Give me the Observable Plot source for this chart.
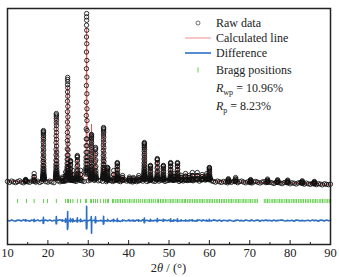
<!DOCTYPE html>
<html>
<head>
<meta charset="utf-8">
<script src="https://cdn.jsdelivr.net/npm/d3@7"></script>
<script src="https://cdn.jsdelivr.net/npm/@observablehq/plot@0.6"></script>
<style>
  body { margin: 0; background: white; }
  #wrap { position: relative; width: 339px; height: 277px; font-family: "Liberation Serif", "Times New Roman", serif; color: #222; }
  .row { position: absolute; left: 183px; height: 16px; display: flex; align-items: center; font-size: 12px; white-space: nowrap; }
  .row svg { width: 30px; height: 16px; margin-right: 3px; }
  .row.nosym { left: 216px; }
  sub { font-size: 8px; vertical-align: -3px; line-height: 0; }
  #xlabel { position: absolute; left: 7px; width: 323px; top: 260px; line-height: 16px; text-align: center; font-size: 12.5px; }
</style>
</head>
<body>
<div id="wrap">
  <div id="chart"></div>
  <div class="row" style="top:15px"><svg><circle cx="15" cy="8" r="2" fill="none" stroke="#333" stroke-width="0.7"/></svg><span>Raw data</span></div>
  <div class="row" style="top:30px"><svg><line x1="2" x2="28" y1="8" y2="8" stroke="#ef8f8f" stroke-width="1"/></svg><span>Calculated line</span></div>
  <div class="row" style="top:45px"><svg><line x1="2" x2="28" y1="8" y2="8" stroke="#2e6fc4" stroke-width="1.6"/></svg><span>Difference</span></div>
  <div class="row" style="top:62px"><svg><line x1="15" x2="15" y1="5.5" y2="10.5" stroke="#5fcf4a" stroke-width="1"/></svg><span>Bragg positions</span></div>
  <div class="row nosym" style="top:80px"><span><i>R</i><sub>wp</sub> = 10.96%</span></div>
  <div class="row nosym" style="top:98px"><span><i>R</i><sub>p</sub> = 8.23%</span></div>
  <div id="xlabel">2<i>θ</i> / (°)</div>
</div>
<script>
// ---- data (intensities in arbitrary units) ----
const scanStart = 10, scanStep = 0.5;
const bgObs = [
  104, 98, 106, 101, 97, 103, 108, 100, 96, 104,
  102, 99, 107, 103, 100, 105, 98, 104, 110, 103,
  100, 106, 101, 97, 104, 108, 102, 99, 105, 110,
  106, 103, 112, 108, 104, 109, 113, 107, 104, 110,
  108, 112, 106, 110, 104, 108, 111, 105, 109, 103,
  106, 110, 104, 108, 112, 107, 103, 109, 114, 106,
  110, 104, 101, 107, 103, 108, 112, 106, 110, 104,
  108, 113, 107, 104, 110, 106, 112, 108, 104, 109,
  112, 106, 110, 115, 108, 104, 111, 107, 113, 109,
  106, 112, 108, 115, 110, 106, 113, 118, 112, 120,
  114, 108, 104, 100, 106, 102, 98, 104, 100, 96,
  102, 99, 105, 101, 97, 103, 106, 100, 96, 102,
  98, 95, 101, 104, 99, 95, 100, 103, 97, 94,
  99, 96, 92, 98, 101, 95, 91, 97, 100, 94,
  90, 96, 93, 89, 95, 98, 92, 88, 94, 90,
  87, 92, 89, 85, 91, 88, 84, 90, 87, 85,
  88
];
const diffBg = [
  2, -3, 4, -1, -4, 3, 1, -2, 5, -3,
  0, -4, 3, 1, -2, 4, -3, 2, -1, 3,
  -2, 4, -3, 1, -4, 2, 5, -2, 0, 3,
  -3, 2, 4, -4, 1, -2, 3, -5, 2, 4,
  -1, 3, -4, 2, 5, -3, 1, -2, 4, -3,
  2, -4, 3, -1, 4, -2, -5, 3, 1, -3,
  4, -2, 1, -4, 3, 0, -3, 5, -1, 2,
  -3, 4, -2, 1, -4, 3, 2, -3, 4, -1,
  3, -2, -4, 2, 5, -3, 1, -1, 4, -2,
  -3, 3, 1, -4, 2, 4, -2, 3, -1, -3,
  2, -3, 4, 1, -2, 3, -4, 2, 0, -3,
  3, -1, -4, 2, 4, -2, 1, -3, 3, 0,
  -2, 4, -3, 1, 3, -4, 2, -1, 4, -2,
  1, -3, 3, -2, -4, 2, 4, -1, -3, 3,
  -1, 2, -4, 3, 1, -2, 4, -3, 0, 2,
  -3, 4, -1, 2, -4, 3, 1, -2, 3, -1,
  2
];
const calcStart = 10, calcStep = 2;
const bgCalc = [103, 103, 103, 104, 104, 104, 105, 106, 107, 108, 108, 108, 108, 108, 108, 107, 106, 107, 108, 108,
  109, 110, 110, 111, 113, 110, 104, 102, 101, 100, 99, 98, 98, 97, 96, 94, 93, 91, 89, 88, 87];

// Bragg peaks: position, sampling step, observed intensities, difference (obs - calc)
const peakPos  = [14.5, 16.6, 18.9, 22.1, 23.6, 24.4, 24.9, 25.6, 26.2, 27.3, 28.1, 29.6, 30.8, 31.8, 33.8, 34.8, 36.3, 37.2,
  38.5, 40.2, 41.2, 42.5, 43.9, 45.4, 47.1, 48.6, 50.4, 51.2, 52.1, 53.0, 54.1, 55.0, 55.8, 57.0, 58.2, 59.3, 60.0,
  64.7, 66.5, 70.2, 74.4, 76.9, 79.4, 83.0, 86.0];
const peakStep = [0.05, 0.05, 0.01, 0.01, 0.05, 0.05, 0.01, 0.02, 0.05, 0.02, 0.05, 0.01, 0.01, 0.02, 0.01, 0.02, 0.05, 0.02,
  0.05, 0.05, 0.05, 0.05, 0.01, 0.02, 0.02, 0.02, 0.02, 0.05, 0.02, 0.05, 0.05, 0.05, 0.05, 0.05, 0.05, 0.05, 0.02,
  0.05, 0.05, 0.05, 0.05, 0.05, 0.05, 0.05, 0.05];
const peakObs = [
  [104,107,112,116,112,107,104],
  [105,113,132,151,132,113,105],
  [116,119,122,125,128,134,140,146,155,167,180,198,222,246,276,306,337,364,385,400,406,394,376,352,321,291,261,234,213,195,180,167,155,146,140,134,128,125,122,119,116],
  [121,125,129,133,137,145,153,161,173,189,206,230,262,294,334,374,415,451,479,499,507,491,467,435,394,354,314,278,250,226,206,189,173,161,153,145,137,133,129,125,121],
  [106,111,121,130,121,111,106],
  [108,116,138,160,138,116,108],
  [131,137,143,149,155,168,180,192,211,235,260,297,346,395,457,518,580,635,678,709,721,696,660,610,549,487,426,370,327,291,260,235,211,192,180,168,155,149,143,137,131],
  [111,113,116,121,127,137,154,176,200,219,228,223,206,182,158,141,132,123,118,115,112],
  [110,119,144,169,144,119,110],
  [113,116,119,125,133,145,166,193,223,247,258,252,231,201,172,152,139,128,122,118,115],
  [110,120,145,170,145,120,110],
  [148,158,168,177,187,207,227,247,277,316,356,416,495,574,673,773,872,961,1031,1080,1100,1060,1001,921,822,723,624,535,465,406,356,316,277,247,227,207,187,177,168,158,148],
  [119,122,125,127,130,136,141,147,155,166,177,193,215,237,265,292,320,345,364,378,383,372,356,334,306,279,251,226,207,191,177,166,155,147,141,136,130,127,125,122,119],
  [116,120,124,132,142,158,185,221,260,292,306,298,270,231,193,167,150,136,128,122,118],
  [121,124,127,130,133,140,146,152,162,174,187,206,231,257,288,320,351,380,402,418,424,411,392,367,336,304,272,244,222,203,187,174,162,152,146,140,133,130,127,124,121],
  [111,113,114,117,121,128,139,153,169,181,187,184,173,157,142,132,125,119,116,114,112],
  [111,120,145,169,145,120,111],
  [112,114,117,121,126,135,150,170,191,208,216,212,197,175,154,140,131,123,119,116,113],
  [110,114,127,139,127,114,110],
  [109,112,121,130,121,112,109],
  [108,111,119,127,119,111,108],
  [108,113,126,139,126,113,108],
  [116,118,121,123,125,130,134,139,146,155,164,178,196,214,237,260,283,303,319,330,335,326,312,294,271,248,226,205,189,175,164,155,146,139,134,130,125,123,121,118,116],
  [112,113,115,119,123,131,143,160,178,193,199,195,183,164,147,135,127,121,117,114,113],
  [113,116,119,124,130,141,159,183,210,231,240,235,216,190,165,148,136,126,121,117,115],
  [113,114,116,120,124,132,144,160,178,193,199,195,183,164,148,136,128,122,118,115,114],
  [113,115,118,122,127,136,151,170,191,209,216,212,197,175,155,141,132,124,120,116,114],
  [111,117,134,150,134,117,111],
  [114,116,118,123,128,137,151,170,192,209,216,212,197,176,156,142,132,125,121,117,115],
  [111,116,128,140,128,116,111],
  [112,118,135,151,135,118,112],
  [112,116,128,140,128,116,112],
  [113,120,139,157,139,120,113],
  [114,121,139,157,139,121,114],
  [115,119,133,145,133,119,115],
  [116,121,136,150,136,121,116],
  [115,117,118,121,125,131,141,155,170,182,187,184,174,159,144,134,128,123,120,117,116],
  [103,107,114,120,114,107,103],
  [103,108,118,127,118,108,103],
  [100,104,110,115,110,104,100],
  [99,103,111,118,111,103,99],
  [98,101,108,114,108,101,98],
  [96,100,106,112,106,100,96],
  [93,96,102,108,102,96,93],
  [90,93,99,104,99,93,90]
];
const peakDiff = [
  [0,-1,-3,4,5,-2,0],
  [0,-2,-6,8,6,-3,0],
  [0,0,0,0,-1,-1,-1,-2,-2,-3,-4,-6,-8,-11,-14,-17,-12,-3,7,15,19,12,3,-7,-13,-15,-12,-9,-6,-4,-3,-2,-1,-1,0,0,0,0,0,0,0],
  [0,0,0,0,-1,-1,-1,-2,-3,-4,-5,-7,-10,-14,-18,-20,-14,-4,8,18,24,16,4,-8,-15,-18,-15,-11,-8,-5,-3,-2,-1,-1,0,0,0,0,0,0,0],
  [0,-1,-4,5,3,-2,0],
  [0,-4,-10,12,8,-3,0],
  [0,0,0,-1,-1,-2,-3,-4,-6,-8,-12,-18,-26,-35,-45,-53,-40,-10,20,42,53,35,8,-20,-38,-45,-38,-28,-19,-12,-8,-5,-3,-2,-1,-1,0,0,0,0,0],
  [0,0,-1,-1,-2,-4,-6,-5,2,8,12,6,-2,-6,-5,-3,-2,-1,0,0,0],
  [0,-3,-8,10,6,-3,0],
  [0,0,-1,-2,-3,-5,-8,-7,2,10,16,8,-3,-8,-7,-4,-2,-1,-1,0,0],
  [0,-2,-7,9,7,-3,0],
  [0,0,0,-1,-1,-2,-3,-4,-6,-9,-13,-19,-27,-36,-45,-50,-40,-15,25,65,85,60,22,-18,-42,-48,-40,-30,-21,-14,-9,-6,-4,-3,-2,-1,-1,0,0,0,0],
  [0,0,0,1,1,2,3,4,5,7,9,12,15,18,22,24,20,10,-8,-30,-55,-72,-75,-60,-42,-28,-18,-12,-8,-5,-3,-2,-1,-1,0,0,0,0,0,0,0],
  [0,0,-1,-2,-4,-8,-12,-10,2,14,22,12,-4,-12,-10,-6,-3,-2,-1,0,0],
  [0,0,0,0,-1,-1,-2,-2,-3,-4,-6,-8,-11,-15,-19,-22,-16,-4,10,20,26,15,3,-9,-17,-20,-17,-12,-8,-5,-3,-2,-1,-1,0,0,0,0,0,0,0],
  [0,0,0,-1,-1,-2,-3,-3,1,4,7,3,-1,-3,-3,-2,-1,0,0,0,0],
  [0,-2,-6,8,6,-2,0],
  [0,0,0,-1,-2,-3,-5,-4,1,6,10,5,-2,-5,-4,-2,-1,-1,0,0,0],
  [0,-1,-3,4,3,-1,0],
  [0,-1,-2,3,2,-1,0],
  [0,-1,-2,3,2,-1,0],
  [0,-2,-4,5,3,-1,0],
  [0,0,0,0,0,-1,-1,-1,-2,-3,-4,-5,-7,-9,-11,-13,-9,-2,5,11,15,9,2,-5,-10,-12,-10,-7,-5,-3,-2,-1,-1,0,0,0,0,0,0,0,0],
  [0,0,0,-1,-1,-2,-4,-3,1,5,8,4,-1,-4,-3,-2,-1,0,0,0,0],
  [0,0,-1,-1,-2,-4,-6,-5,2,7,12,6,-2,-6,-5,-3,-2,-1,0,0,0],
  [0,0,0,-1,-1,-2,-4,-3,1,5,8,4,-1,-4,-3,-2,-1,0,0,0,0],
  [0,0,0,-1,-2,-3,-5,-4,1,6,10,5,-2,-5,-4,-2,-1,-1,0,0,0],
  [0,-1,-3,4,3,-1,0],
  [0,0,0,-1,-2,-3,-5,-4,1,6,10,5,-2,-5,-4,-2,-1,-1,0,0,0],
  [0,-1,-3,4,2,-1,0],
  [0,-1,-3,4,3,-1,0],
  [0,-1,-2,3,2,-1,0],
  [0,-1,-3,4,3,-1,0],
  [0,-1,-3,4,3,-1,0],
  [0,-1,-2,3,2,-1,0],
  [0,-1,-2,3,2,-1,0],
  [0,0,0,-1,-1,-2,-3,-3,1,4,7,3,-1,-3,-3,-2,-1,0,0,0,0],
  [0,-1,-1,2,1,-1,0],
  [0,-1,-1,2,1,-1,0],
  [0,-1,-1,2,1,-1,0],
  [0,-1,-1,2,1,-1,0],
  [0,-1,-1,2,1,-1,0],
  [0,-1,-1,2,1,-1,0],
  [0,-1,-1,2,1,-1,0],
  [0,-1,-1,2,1,-1,0]
];
const braggPos = [12.5, 14.7, 16.6, 18.9, 19.9, 22.1, 24.4, 24.9, 25.1, 25.6, 26.2, 27.3, 28.1, 29.3, 29.6, 30.6, 30.8, 31.3,
  31.8, 32.3, 33.0, 33.8, 34.3, 34.8, 35.0, 36.0, 36.3, 36.8, 37.2, 37.6, 38.0, 38.5, 38.9, 39.3, 39.8, 40.2, 40.6,
  41.1, 41.5, 42.0, 42.5, 42.9, 43.4, 43.9, 44.3, 44.8, 45.2, 45.7, 46.1, 46.6, 47.1, 47.4, 47.9, 48.3, 48.6, 49.1,
  49.5, 50.0, 50.4, 50.8, 51.2, 51.7, 52.1, 52.5, 53.0, 53.4, 53.8, 54.1, 54.6, 55.0, 55.4, 55.8, 56.3, 56.7, 57.0,
  57.5, 57.9, 58.3, 58.7, 59.2, 59.6, 60.0, 60.4, 60.8, 61.3, 61.7, 62.1, 62.5, 63.0, 63.4, 63.8, 64.2, 64.7, 65.1,
  65.5, 65.9, 66.4, 66.8, 67.2, 67.6, 68.1, 68.5, 68.9, 69.3, 69.8, 70.2, 70.6, 71.1, 71.5, 71.9, 73.6, 74.0, 74.4,
  74.8, 75.3, 75.7, 76.1, 76.5, 77.0, 77.4, 77.8, 78.2, 78.7, 79.1, 79.5, 79.9, 80.4, 80.8, 81.2, 81.6, 82.1, 82.5,
  82.9, 83.3, 83.8, 84.2, 84.6, 85.0, 85.5, 85.9, 86.3, 86.7, 87.2, 87.6, 88.0, 88.4, 88.9, 89.3, 89.7];
const majorTicks = [10, 20, 30, 40, 50, 60, 70, 80, 90];
const minorTicks = [15, 25, 35, 45, 55, 65, 75, 85];
const diffOffset = -128;
const braggTop = -3, braggBottom = -27;

// ---- assemble series ----
const windows = peakPos.map((p, i) => {
  const h = (peakObs[i].length - 1) / 2 * peakStep[i];
  return [p - h - 1e-6, p + h + 1e-6];
});
const inPeak = x => windows.some(([a, b]) => x >= a && x <= b);
const obsPts = [], calcPts = [], diffPts = [];
bgObs.forEach((v, i) => {
  const x = scanStart + i * scanStep;
  if (!inPeak(x)) { obsPts.push({x, y: v}); diffPts.push({x, y: diffBg[i]}); }
});
bgCalc.forEach((v, i) => {
  const x = calcStart + i * calcStep;
  if (!inPeak(x)) calcPts.push({x, y: v});
});
peakPos.forEach((p, i) => {
  const h = (peakObs[i].length - 1) / 2;
  peakObs[i].forEach((v, j) => {
    const x = p + (j - h) * peakStep[i];
    const d = peakDiff[i][j];
    obsPts.push({x, y: v});
    calcPts.push({x, y: v - d});
    diffPts.push({x, y: d});
  });
});
calcPts.sort((a, b) => a.x - b.x);
diffPts.sort((a, b) => a.x - b.x);

const chart = Plot.plot({
  width: 339, height: 277,
  marginLeft: 7, marginRight: 9, marginTop: 8, marginBottom: 33,
  x: {domain: [10, 90]},
  y: {domain: [-270, 1130], axis: null},
  style: {fontFamily: "'Liberation Serif', 'Times New Roman', serif", fontSize: "12.5px", color: "#222", background: "white"},
  marks: [
    Plot.ruleX(braggPos, {x: d => d, y1: braggTop, y2: braggBottom, stroke: "#5fcf4a", strokeWidth: 1}),
    Plot.line(diffPts, {x: "x", y: d => diffOffset + d.y, stroke: "#2e6fc4", strokeWidth: 1.6}),
    Plot.line(calcPts, {x: "x", y: "y", stroke: "#e35d5d", strokeWidth: 1}),
    Plot.dot(obsPts, {x: "x", y: "y", r: 2.2, stroke: "#111", strokeWidth: 0.85, fill: "none"}),
    Plot.tickX(majorTicks, {x: d => d, insetTop: 232, stroke: "#222"}),
    Plot.tickX(minorTicks, {x: d => d, insetTop: 234, stroke: "#222"}),
    Plot.axisX({ticks: majorTicks, tickSize: 0, tickPadding: 4, label: null, tickFormat: d => String(d)}),
    Plot.frame({stroke: "#222", strokeWidth: 1.5})
  ]
});
document.getElementById("chart").appendChild(chart);
</script>
</body>
</html>
